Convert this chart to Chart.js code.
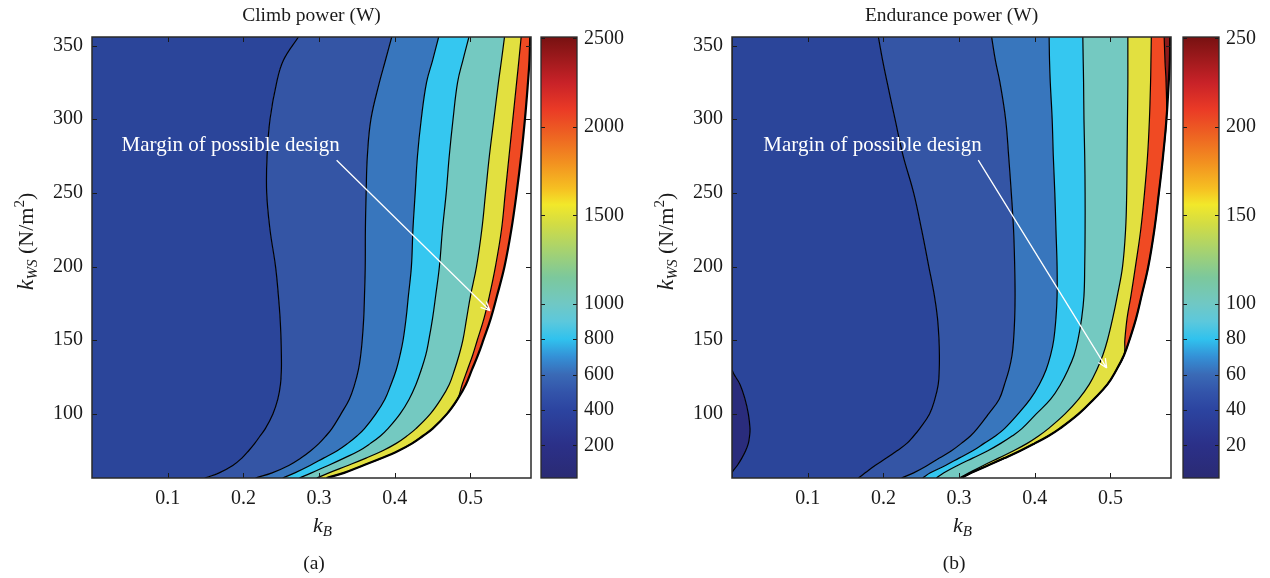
<!DOCTYPE html>
<html>
<head>
<meta charset="utf-8">
<script src="https://cdn.jsdelivr.net/npm/chart.js@4.4.1/dist/chart.umd.min.js"></script>
<style>
html,body{margin:0;padding:0;background:#fff;}
#wrap{position:relative;width:1270px;height:578px;overflow:hidden;background:#fff;}
canvas{position:absolute;top:0;}
</style>
</head>
<body>
<div id="wrap">
  <canvas id="plotA" width="533" height="578" style="left:0px"></canvas>
  <canvas id="barA" width="110" height="578" style="left:530px"></canvas>
  <canvas id="plotB" width="533" height="578" style="left:640px"></canvas>
  <canvas id="barB" width="100" height="578" style="left:1170px"></canvas>
</div>
<script>
// ---------- data ----------
// k_WS sample rows (N/m^2) at which each contour's k_B position was read
const kWS = [56.5, 60, 65, 70, 75, 80, 85, 90, 100, 110, 120, 130, 140, 150, 165, 180, 200, 225, 250, 275, 300, 325, 340, 355.8];

// Climb power contours (k_B at each k_WS), left to right
const climb1 = [0.149, 0.168, 0.186, 0.198, 0.207, 0.215, 0.222, 0.229, 0.239, 0.2455, 0.249, 0.2502, 0.2502, 0.2498, 0.2485, 0.2463, 0.2425, 0.2352, 0.2308, 0.2313, 0.2352, 0.244, 0.2529, 0.2727];
const climb2 = [0.216, 0.238, 0.260, 0.276, 0.289, 0.300, 0.309, 0.317, 0.329, 0.340, 0.347, 0.352, 0.355, 0.357, 0.359, 0.360, 0.361, 0.3612, 0.3622, 0.3638, 0.3685, 0.3797, 0.3877, 0.396];
const climb3 = [0.252, 0.268, 0.288, 0.306, 0.324, 0.338, 0.350, 0.360, 0.375, 0.387, 0.395, 0.402, 0.407, 0.411, 0.415, 0.418, 0.422, 0.424, 0.427, 0.430, 0.435, 0.442, 0.450, 0.458];
const climb4 = [0.274, 0.290, 0.312, 0.333, 0.353, 0.368, 0.381, 0.391, 0.407, 0.419, 0.428, 0.435, 0.441, 0.445, 0.450, 0.454, 0.459, 0.463, 0.468, 0.472, 0.477, 0.483, 0.490, 0.498];
const climb5 = [0.297, 0.313, 0.338, 0.362, 0.384, 0.402, 0.416, 0.428, 0.447, 0.461, 0.472, 0.479, 0.485, 0.490, 0.495, 0.500, 0.508, 0.515, 0.520, 0.525, 0.531, 0.537, 0.541, 0.545];
const climb6 = [0.310, 0.333, 0.358, 0.383, 0.405, 0.423, 0.437, 0.450, 0.469, 0.483, 0.489, 0.496, 0.503, 0.509, 0.518, 0.525, 0.533, 0.541, 0.546, 0.551, 0.556, 0.561, 0.564, 0.567];
const climbEdge = [0.310, 0.333, 0.358, 0.383, 0.405, 0.423, 0.437, 0.450, 0.469, 0.483, 0.494, 0.502, 0.510, 0.517, 0.527, 0.535, 0.545, 0.554, 0.561, 0.567, 0.572, 0.576, 0.578, 0.579];

// Endurance power contours
const endu0 = [0, 0, 0.007, 0.013, 0.018, 0.0216, 0.0232, 0.0238, 0.0216, 0.0172, 0.0106, 0, 0, 0, 0, 0, 0, 0, 0, 0, 0, 0, 0, 0];
const endu1 = [0.167, 0.176, 0.189, 0.204, 0.218, 0.231, 0.240, 0.248, 0.261, 0.268, 0.2725, 0.2738, 0.274, 0.2735, 0.2715, 0.2675, 0.260, 0.2505, 0.240, 0.2262, 0.2154, 0.205, 0.199, 0.1934];
const endu2 = [0.224, 0.240, 0.258, 0.274, 0.290, 0.303, 0.315, 0.324, 0.339, 0.353, 0.360, 0.366, 0.370, 0.372, 0.3735, 0.374, 0.3735, 0.372, 0.369, 0.3655, 0.3615, 0.354, 0.348, 0.343];
const endu3 = [0.252, 0.262, 0.282, 0.300, 0.318, 0.333, 0.348, 0.360, 0.378, 0.394, 0.406, 0.415, 0.421, 0.425, 0.428, 0.4295, 0.4295, 0.428, 0.4265, 0.4245, 0.423, 0.4205, 0.4195, 0.419];
const endu4 = [0.270, 0.280, 0.298, 0.318, 0.338, 0.355, 0.370, 0.383, 0.402, 0.421, 0.434, 0.444, 0.452, 0.457, 0.462, 0.465, 0.466, 0.4665, 0.4665, 0.466, 0.465, 0.4645, 0.464, 0.4635];
const endu5 = [0.300, 0.313, 0.332, 0.352, 0.372, 0.390, 0.405, 0.418, 0.440, 0.458, 0.472, 0.482, 0.490, 0.496, 0.503, 0.509, 0.516, 0.520, 0.5215, 0.522, 0.5225, 0.523, 0.523, 0.523];
const endu6 = [0.303, 0.316, 0.338, 0.360, 0.381, 0.400, 0.418, 0.433, 0.458, 0.478, 0.496, 0.508, 0.518, 0.519, 0.522, 0.527, 0.533, 0.540, 0.545, 0.549, 0.5515, 0.553, 0.5535, 0.554];
const endu7 = [0.303, 0.316, 0.338, 0.360, 0.381, 0.400, 0.418, 0.433, 0.458, 0.478, 0.496, 0.508, 0.518, 0.525, 0.534, 0.541, 0.550, 0.558, 0.564, 0.5695, 0.574, 0.5735, 0.572, 0.571];
const enduEdge = [0.303, 0.316, 0.338, 0.360, 0.381, 0.400, 0.418, 0.433, 0.458, 0.478, 0.496, 0.508, 0.518, 0.525, 0.534, 0.541, 0.550, 0.558, 0.564, 0.5695, 0.574, 0.577, 0.5785, 0.579];

// band colours (region left of each contour)
const climbFills = ['#2b459a', '#3455a5', '#3876bd', '#35c7f0', '#74c9c1', '#e2e040', '#f04a23'];
const enduFills = ['#2a2c7c', '#2b459a', '#3455a5', '#3876bd', '#35c7f0', '#74c9c1', '#e2e040', '#f04a23', '#8c1a1a'];

// tick labels
const xTicks = [0.1, 0.2, 0.3, 0.4, 0.5];
const yTicks = [100, 150, 200, 250, 300, 350];
const climbBarTicks = [200, 400, 600, 800, 1000, 1500, 2000, 2500];
const enduBarTicks = [20, 40, 60, 80, 100, 150, 200, 250];

// colour map stops (fraction of colour range, colour)
const cmapStops = [[0, '#2a2a72'], [0.08, '#2b3088'], [0.16, '#2c44a0'], [0.2, '#3354aa'], [0.24, '#3a6ab6'],
  [0.28, '#3490d6'], [0.32, '#30c2ee'], [0.36, '#5cc8dc'], [0.40, '#70c8c4'], [0.46, '#7cc89c'],
  [0.52, '#a6d270'], [0.58, '#d2dc44'], [0.624, '#f2e82a'], [0.66, '#f6c022'], [0.72, '#f29020'],
  [0.78, '#ee6422'], [0.84, '#ea3a26'], [0.90, '#c82228'], [1, '#7a1212']];

// ---------- helpers ----------
const SERIF = '"Liberation Serif", "Times New Roman", serif';
const INK = '#1a1a1a';

function rich(ctx, parts, cx, baseY) {
  let total = 0;
  parts.forEach(p => { ctx.font = (p.i ? 'italic ' : '') + p.s + 'px ' + SERIF; p.w = ctx.measureText(p.t).width; total += p.w; });
  let xx = cx - total / 2;
  ctx.textAlign = 'left'; ctx.textBaseline = 'alphabetic';
  parts.forEach(p => { ctx.font = (p.i ? 'italic ' : '') + p.s + 'px ' + SERIF; ctx.fillText(p.t, xx, baseY + (p.dy || 0)); xx += p.w; });
}

const panelDecor = {
  id: 'panelDecor',
  afterDraw(chart, args, o) {
    const {ctx, chartArea: a, scales: {x, y}} = chart;
    ctx.save();
    // inward ticks (MATLAB style)
    ctx.strokeStyle = INK; ctx.lineWidth = 1;
    ctx.beginPath();
    x.ticks.forEach(t => { const p = Math.round(x.getPixelForValue(t.value)) + 0.5;
      ctx.moveTo(p, a.bottom); ctx.lineTo(p, a.bottom - 5); ctx.moveTo(p, a.top); ctx.lineTo(p, a.top + 5); });
    y.ticks.forEach(t => { const p = Math.round(y.getPixelForValue(t.value)) + 0.5;
      ctx.moveTo(a.left, p); ctx.lineTo(a.left + 5, p); ctx.moveTo(a.right, p); ctx.lineTo(a.right - 5, p); });
    ctx.stroke();
    ctx.lineWidth = 1.5; ctx.strokeStyle = '#2a2a2a';
    ctx.strokeRect(a.left, a.top, a.width, a.height);
    // annotation
    const n = o.note;
    ctx.fillStyle = '#fff'; ctx.font = '21px ' + SERIF; ctx.textBaseline = 'middle'; ctx.textAlign = 'left';
    ctx.fillText(n.text, x.getPixelForValue(n.textAt[0]), y.getPixelForValue(n.textAt[1]));
    const x0 = x.getPixelForValue(n.from[0]), y0 = y.getPixelForValue(n.from[1]);
    const x1 = x.getPixelForValue(n.to[0]), y1 = y.getPixelForValue(n.to[1]);
    const ang = Math.atan2(y1 - y0, x1 - x0);
    ctx.strokeStyle = '#fff'; ctx.lineWidth = 1.3;
    ctx.beginPath(); ctx.moveTo(x0, y0); ctx.lineTo(x1, y1);
    [-1, 1].forEach(s => { ctx.moveTo(x1, y1); ctx.lineTo(x1 - 10 * Math.cos(ang + s * 0.42), y1 - 10 * Math.sin(ang + s * 0.42)); });
    ctx.stroke();
    // title, axis labels, panel tag
    const cx = (a.left + a.right) / 2;
    ctx.fillStyle = INK; ctx.textAlign = 'center'; ctx.textBaseline = 'alphabetic';
    ctx.font = '19.5px ' + SERIF;
    ctx.fillText(o.title, cx, 21);
    ctx.fillText(o.tag, cx + 2.5, 569);
    rich(ctx, [{t: 'k', s: 22, i: true}, {t: 'B', s: 15, i: true, dy: 4}], cx + 11, 532);
    ctx.translate(33, (a.top + a.bottom) / 2 - 16);
    ctx.rotate(-Math.PI / 2);
    rich(ctx, [{t: 'k', s: 24, i: true}, {t: 'WS', s: 15, i: true, dy: 4}, {t: ' (N/m', s: 22}, {t: '2', s: 15, dy: -9}, {t: ')', s: 22}], 0, 0);
    ctx.restore();
  }
};

function contourSets(curves, fills) {
  return curves.map((xs, i) => ({
    data: xs.map((v, j) => ({x: v, y: kWS[j]})),
    fill: i === 0 ? {value: 0} : '-1',
    backgroundColor: fills[i],
    borderColor: '#000',
    borderWidth: i === curves.length - 1 ? 2.2 : 1.2,
    pointRadius: 0,
    tension: 0.4
  }));
}

function plotChart(id, curves, fills, decor) {
  return new Chart(document.getElementById(id), {
    type: 'line',
    data: {datasets: contourSets(curves, fills)},
    options: {
      responsive: false, animation: false, events: [],
      indexAxis: 'y',
      layout: {padding: {left: 0, right: 2, top: 37, bottom: 60}},
      plugins: {legend: {display: false}, tooltip: {enabled: false}, filler: {drawTime: 'beforeDatasetsDraw'}, panelDecor: decor},
      scales: {
        x: {type: 'linear', position: 'bottom', min: 0, max: 0.58,
          grid: {display: false, drawTicks: false}, border: {display: false},
          ticks: {padding: 9, color: INK, font: {family: SERIF, size: 20}, callback: v => v.toFixed(1)},
          afterBuildTicks: s => { s.ticks = xTicks.map(v => ({value: v})); },
          afterFit: s => { s.height = 40; }},
        y: {type: 'linear', position: 'left', min: 56.5, max: 355.8,
          grid: {display: false, drawTicks: false}, border: {display: false},
          ticks: {padding: 9, color: INK, font: {family: SERIF, size: 20}, callback: v => String(v)},
          afterBuildTicks: s => { s.ticks = yTicks.map(v => ({value: v})); },
          afterFit: s => { s.width = 92; }}
      }
    },
    plugins: [panelDecor]
  });
}

const barFrame = {
  id: 'barFrame',
  afterDraw(chart) {
    const {ctx, chartArea: a, scales: {y}} = chart;
    ctx.save();
    ctx.strokeStyle = INK; ctx.lineWidth = 1;
    ctx.beginPath();
    y.ticks.forEach(t => { const p = Math.round(y.getPixelForValue(t.value)) + 0.5;
      ctx.moveTo(a.left, p); ctx.lineTo(a.left + 4, p); ctx.moveTo(a.right, p); ctx.lineTo(a.right - 4, p); });
    ctx.stroke();
    ctx.lineWidth = 1.3; ctx.strokeStyle = '#2a2a2a';
    ctx.strokeRect(a.left, a.top, a.width, a.height);
    ctx.restore();
  }
};

function barChart(id, lo, hi, top, ticks, padLeft, axisW) {
  return new Chart(document.getElementById(id), {
    type: 'bar',
    data: {labels: [''], datasets: [{
      data: [[lo, hi]], borderWidth: 0, barPercentage: 1, categoryPercentage: 1,
      backgroundColor: (c) => {
        const ch = c.chart; if (!ch.chartArea) return '#3455a5';
        const g = ch.ctx.createLinearGradient(0, ch.scales.y.getPixelForValue(0), 0, ch.scales.y.getPixelForValue(top));
        cmapStops.forEach(([f, col]) => g.addColorStop(f, col));
        return g;
      }
    }]},
    options: {
      responsive: false, animation: false, events: [],
      layout: {padding: {left: padLeft, right: 0, top: 37, bottom: 100}},
      plugins: {legend: {display: false}, tooltip: {enabled: false}},
      scales: {
        x: {display: false},
        y: {position: 'right', min: lo, max: hi,
          grid: {display: false, drawTicks: false}, border: {display: false},
          ticks: {padding: 7, color: INK, font: {family: SERIF, size: 20}, callback: v => String(v)},
          afterBuildTicks: s => { s.ticks = ticks.map(v => ({value: v})); },
          afterFit: s => { s.width = axisW; }}
      }
    },
    plugins: [barFrame]
  });
}

plotChart('plotA', [climb1, climb2, climb3, climb4, climb5, climb6, climbEdge], climbFills, {
  title: 'Climb power (W)', tag: '(a)',
  note: {text: 'Margin of possible design', textAt: [0.039, 282.4], from: [0.3232, 272.2], to: [0.5258, 170]}
});
plotChart('plotB', [endu0, endu1, endu2, endu3, endu4, endu5, endu6, endu7, enduEdge], enduFills, {
  title: 'Endurance power (W)', tag: '(b)',
  note: {text: 'Margin of possible design', textAt: [0.0414, 282.4], from: [0.3254, 272.2], to: [0.495, 131.1]}
});
barChart('barA', 15, 2508, 2500, climbBarTicks, 11, 63);
barChart('barB', 1.5, 250.8, 250, enduBarTicks, 13, 51);
</script>
</body>
</html>
